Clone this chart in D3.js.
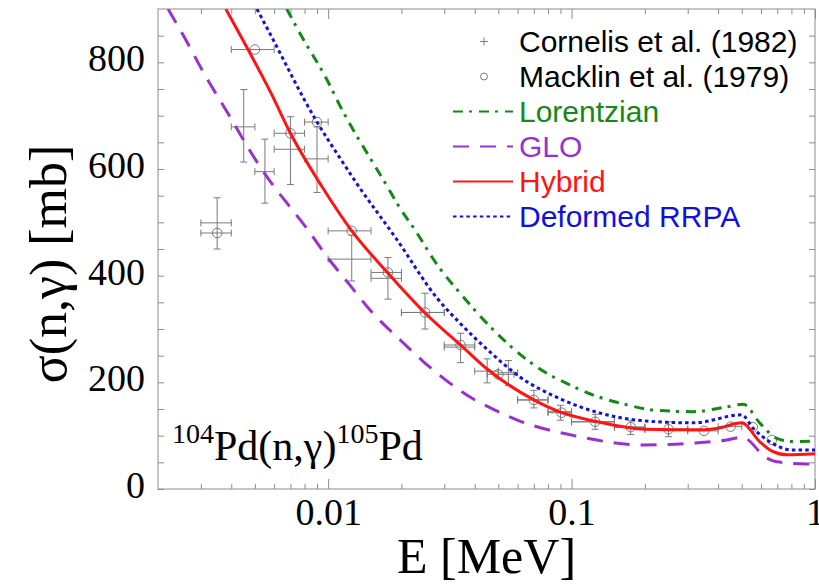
<!DOCTYPE html>
<html>
<head>
<meta charset="utf-8">
<script src="https://cdn.jsdelivr.net/npm/d3@7/dist/d3.min.js"></script>
<style>
  body { margin: 0; background: #fff; }
  svg { display: block; }
</style>
</head>
<body>
<div id="chart"></div>
<script>
// model curves: [E (MeV), sigma (mb)]
var lorentzian = [[0.00676,900],[0.0078,848],[0.0099,767],[0.011,725],[0.0175,567],[0.0194,532],[0.0227,486],
  [0.0284,417],[0.035,366],[0.0493,292],[0.0644,245],[0.0791,217],[0.0955,198],[0.123,176],[0.1685,158],
  [0.217,148],[0.316,145],[0.434,154],[0.508,159],[0.595,123],[0.697,95],[0.813,89],[1.0,90]];
var glo = [[0.0022,900],[0.00258,845],[0.00312,776],[0.00395,698],[0.00485,629],[0.00586,573],[0.00697,529],
  [0.00816,489],[0.00987,436],[0.0121,386],[0.0153,329],[0.0191,286],[0.0246,239],[0.0317,198],[0.0401,167],
  [0.0485,148],[0.0624,126],[0.0803,111],[0.105,99],[0.197,82.5],[0.316,86],[0.434,92],[0.502,97],
  [0.634,58],[0.697,51],[0.925,47],[1.0,47]];
var hybrid = [[0.0038,900],[0.0047,823],[0.0058,744],[0.0070,667],[0.0094,568],[0.0125,484],[0.0176,405],
  [0.025,330],[0.035,270],[0.045,225],[0.070,167],[0.090,144],[0.125,127],[0.20,112],[0.34,111],[0.40,114],
  [0.50,124],[0.595,88],[0.666,71],[0.77,64],[1.0,66]];
var rrpa = [[0.0051,900],[0.00566,861],[0.009,688],[0.0112,620],[0.0131,573],[0.0192,467],[0.028,358],
  [0.0348,311],[0.0462,257],[0.0614,210],[0.09,169],[0.197,128],[0.316,124],[0.50,139],[0.557,114],
  [0.666,86],[0.81,73],[1.0,73]];

// Cornelis et al. (1982): E, sigma, sigma low, sigma high, E low, E high
var cornelisE   = [0.0035,0.0045,0.0055,0.0070,0.0090,0.0125,0.0176,0.025,0.035,0.045,0.055,0.070,0.090,0.125,0.175,0.25];
var cornelisS   = [499,679,595,637,619,431,395,331,266,221,218,167,145,126,116,112];
var cornelisSlo = [450,613,536,571,556,390,356,300,237,199,194,152,129,112,102,98];
var cornelisShi = [546,749,656,698,679,476,434,367,292,244,241,185,157,140,128,126];
var cornelisElo = [0.003,0.004,0.005,0.006,0.008,0.010,0.015,0.020,0.030,0.040,0.050,0.060,0.080,0.100,0.150,0.200];
var cornelisEhi = [0.004,0.005,0.006,0.008,0.010,0.015,0.020,0.030,0.040,0.050,0.060,0.080,0.100,0.150,0.200,0.300];

// Macklin et al. (1979): E, sigma, E low, E high
var macklinE   = [0.0035,0.0050,0.0070,0.0090,0.0125,0.0176,0.025,0.035,0.050,0.070,0.091,0.125,0.175,0.25,0.35,0.45,0.555,0.665];
var macklinS   = [480,824,667,688,484,406,331,270,215,167,143,126,116,112,109,117,116,92];
var macklinElo = [0.003,0.004,0.006,0.008,0.010,0.015,0.020,0.030,0.045,0.060,0.080,0.100,0.150,0.200,0.300,0.400,0.555,0.665];
var macklinEhi = [0.004,0.006,0.008,0.010,0.015,0.020,0.030,0.040,0.058,0.080,0.100,0.150,0.200,0.300,0.400,0.500,0.555,0.665];

var xMajor = [0.01, 0.1, 1];
var xMinor = [0.003,0.004,0.005,0.006,0.007,0.008,0.009,0.02,0.03,0.04,0.05,0.06,0.07,0.08,0.09,0.2,0.3,0.4,0.5,0.6,0.7,0.8,0.9];
var yMajor = [0, 200, 400, 600, 800];
var yMinor = d3.range(50, 900, 50).filter(v => v % 200 != 0);

var W = 819, H = 586;
var L = 158, R = 815, T = 9, B = 489;
var x = d3.scaleLog().domain([0.002, 1]).range([L, R]);
var y = d3.scaleLinear().domain([0, 900]).range([B, T]);

var svg = d3.select('#chart').append('svg').attr('width', W).attr('height', H);
svg.append('rect').attr('width', W).attr('height', H).attr('fill', '#fff');

svg.append('clipPath').attr('id', 'clip')
  .append('rect').attr('x', L).attr('y', T).attr('width', R - L).attr('height', B - T);

var axisCol = '#8c8c8c';
var serif = 'Liberation Serif, Times New Roman, serif';
var sans = 'Liberation Sans, Arial, sans-serif';

function styleAxis(g) {
  g.select('.domain').remove();
  g.selectAll('.tick line').attr('stroke', axisCol).attr('stroke-width', 1);
  g.selectAll('.tick text').attr('fill', '#000').style('font-family', serif).style('font-size', '38px');
}

// bottom
svg.append('g').attr('transform', 'translate(0,' + B + ')')
  .call(d3.axisBottom(x).tickValues(xMinor).tickSize(-5).tickFormat('')).call(styleAxis);
svg.append('g').attr('transform', 'translate(0,' + B + ')')
  .call(d3.axisBottom(x).tickValues(xMajor).tickSize(-10).tickPadding(9).tickFormat(d3.format('~g'))).call(styleAxis);
// top
svg.append('g').attr('transform', 'translate(0,' + T + ')')
  .call(d3.axisTop(x).tickValues(xMinor).tickSize(-5).tickFormat('')).call(styleAxis);
svg.append('g').attr('transform', 'translate(0,' + T + ')')
  .call(d3.axisTop(x).tickValues(xMajor).tickSize(-10).tickFormat('')).call(styleAxis);
// left
svg.append('g').attr('transform', 'translate(' + L + ',0)')
  .call(d3.axisLeft(y).tickValues(yMinor).tickSize(-6).tickFormat('')).call(styleAxis);
var yl = svg.append('g').attr('transform', 'translate(' + L + ',0)')
  .call(d3.axisLeft(y).tickValues(yMajor).tickSize(-6).tickPadding(13)).call(styleAxis);
yl.selectAll('.tick text').attr('dy', '0.22em');
// right
svg.append('g').attr('transform', 'translate(' + R + ',0)')
  .call(d3.axisRight(y).tickValues(yMinor.concat(yMajor)).tickSize(-6).tickFormat('')).call(styleAxis);

svg.append('rect').attr('x', L).attr('y', T).attr('width', R - L).attr('height', B - T)
  .attr('fill', 'none').attr('stroke', axisCol).attr('stroke-width', 1);

// axis titles
svg.append('text').attr('x', (L + R) / 2).attr('y', 573).attr('text-anchor', 'middle')
  .style('font-family', serif).style('font-size', '50px').text('E [MeV]');
svg.append('text').attr('transform', 'translate(66,264) rotate(-90)')
  .attr('text-anchor', 'middle').style('font-family', serif).style('font-size', '52px')
  .text('σ(n,γ) [mb]');

// data points
var errCol = '#7a7a7a', cap = 3.5;
var data = svg.append('g').attr('stroke', errCol).attr('stroke-width', 1).attr('fill', 'none');

cornelisE.forEach(function(e, i) {
  var cx = x(e), cy = y(cornelisS[i]);
  var x0 = x(cornelisElo[i]), x1 = x(cornelisEhi[i]);
  var y0 = y(cornelisSlo[i]), y1 = y(cornelisShi[i]);
  data.append('line').attr('x1', x0).attr('x2', x1).attr('y1', cy).attr('y2', cy);
  data.append('line').attr('x1', x0).attr('x2', x0).attr('y1', cy - cap).attr('y2', cy + cap);
  data.append('line').attr('x1', x1).attr('x2', x1).attr('y1', cy - cap).attr('y2', cy + cap);
  data.append('line').attr('x1', cx).attr('x2', cx).attr('y1', y0).attr('y2', y1);
  data.append('line').attr('x1', cx - cap).attr('x2', cx + cap).attr('y1', y0).attr('y2', y0);
  data.append('line').attr('x1', cx - cap).attr('x2', cx + cap).attr('y1', y1).attr('y2', y1);
});

macklinE.forEach(function(e, i) {
  var cx = x(e), cy = y(macklinS[i]);
  var x0 = x(macklinElo[i]), x1 = x(macklinEhi[i]);
  if (x1 - x0 > 1) {
    data.append('line').attr('x1', x0).attr('x2', x1).attr('y1', cy).attr('y2', cy);
    data.append('line').attr('x1', x0).attr('x2', x0).attr('y1', cy - cap).attr('y2', cy + cap);
    data.append('line').attr('x1', x1).attr('x2', x1).attr('y1', cy - cap).attr('y2', cy + cap);
  }
  data.append('circle').attr('cx', cx).attr('cy', cy).attr('r', 4.8);
});

// model curves
var series = [
  {name: 'Lorentzian', data: lorentzian, color: '#138a13', dash: '10,6,3,7'},
  {name: 'GLO', data: glo, color: '#9b30d0', dash: '16,11'},
  {name: 'Hybrid', data: hybrid, color: '#ff1414', dash: null},
  {name: 'Deformed RRPA', data: rrpa, color: '#1010e0', dash: '3.5,3.2'}
];
var line = d3.line().x(d => x(d[0])).y(d => y(d[1])).curve(d3.curveMonotoneX);
var curves = svg.append('g').attr('clip-path', 'url(#clip)');
series.forEach(function(s) {
  curves.append('path').datum(s.data).attr('d', line).attr('fill', 'none')
    .attr('stroke', s.color).attr('stroke-width', 3).attr('stroke-dasharray', s.dash);
});

// legend
var lg = svg.append('g');
var rowY = [41.5, 76.5, 111.5, 146.5, 181.5, 216.5];
lg.append('line').attr('x1', 480).attr('x2', 488).attr('y1', rowY[0]).attr('y2', rowY[0]).attr('stroke', errCol);
lg.append('line').attr('x1', 484).attr('x2', 484).attr('y1', rowY[0] - 4).attr('y2', rowY[0] + 4).attr('stroke', errCol);
lg.append('circle').attr('cx', 484).attr('cy', rowY[1]).attr('r', 3.5).attr('fill', 'none').attr('stroke', errCol);
lg.append('text').attr('x', 519).attr('y', rowY[0] + 10.5).style('font-family', sans).style('font-size', '30px')
  .text('Cornelis et al. (1982)');
lg.append('text').attr('x', 519).attr('y', rowY[1] + 10.5).style('font-family', sans).style('font-size', '30px')
  .text('Macklin et al. (1979)');
series.forEach(function(s, i) {
  var yy = rowY[i + 2];
  lg.append('line').attr('x1', 453).attr('x2', 513).attr('y1', yy).attr('y2', yy)
    .attr('stroke', s.color).attr('stroke-width', 2).attr('stroke-dasharray', s.dash);
  lg.append('text').attr('x', 519).attr('y', yy + 10.5).attr('fill', s.color)
    .style('font-family', sans).style('font-size', '30px').text(s.name);
});

// reaction label
var rl = svg.append('text').attr('x', 172).attr('y', 460).style('font-family', serif).style('font-size', '42px');
rl.append('tspan').attr('font-size', '28px').attr('dy', -17).text('104');
rl.append('tspan').attr('dy', 17).text('Pd(n,γ)');
rl.append('tspan').attr('font-size', '28px').attr('dy', -17).text('105');
rl.append('tspan').attr('dy', 17).text('Pd');
</script>
</body>
</html>
